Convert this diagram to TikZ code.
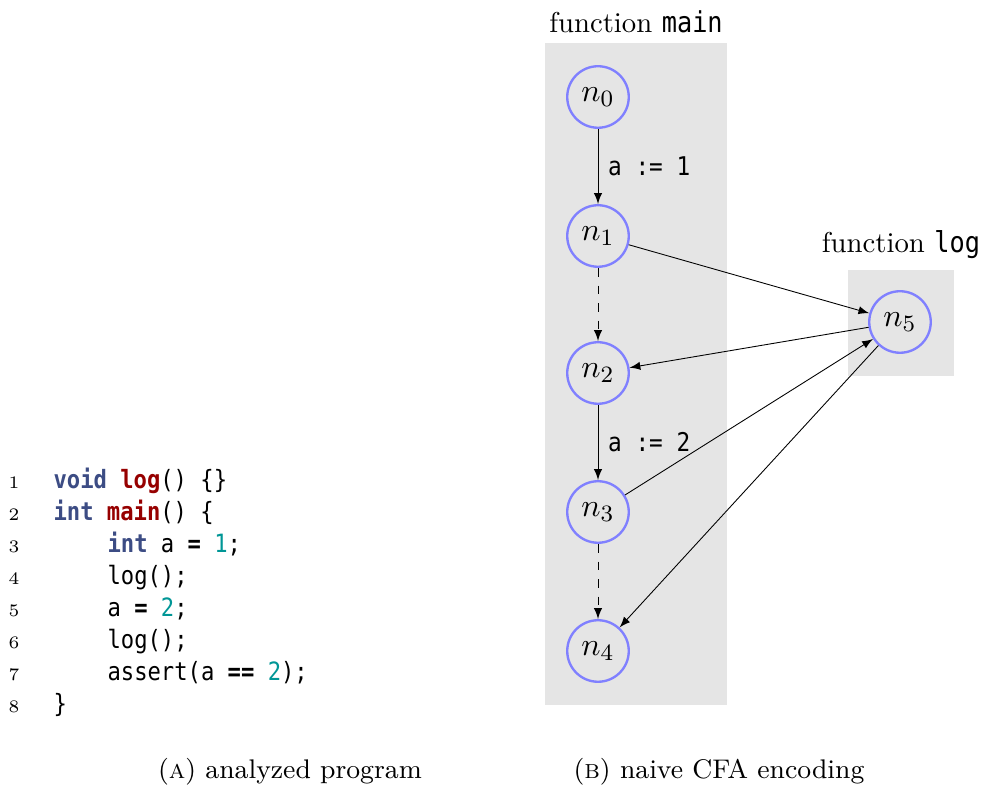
\documentclass[tikz,border=0pt]{standalone}
\usepackage{fontspec}
\usetikzlibrary{arrows}
\newfontfamily\codefont[FakeStretch=0.88]{DejaVu Sans Mono}
\definecolor{kwblue}{RGB}{60,76,132}
\definecolor{fnred}{RGB}{150,0,0}
\definecolor{numteal}{RGB}{0,150,150}
\newcommand{\kw}[1]{\textbf{\color{kwblue}#1}}
\newcommand{\fn}[1]{\textbf{\color{fnred}#1}}
\newcommand{\num}[1]{{\color{numteal}#1}}
\newcommand{\op}[1]{\textbf{#1}}

\begin{document}
\begin{tikzpicture}[x=0.3413pt,y=-0.3413pt,>=latex,
  loc/.style={circle,draw=blue!50,line width=0.8pt,minimum size=21pt,inner sep=0pt,font=\fontsize{11}{13}\selectfont},
  fbox/.style={fill=black!10,draw=none},
  codeline/.style={anchor=base west,inner sep=0pt,font=\fontsize{8.6}{10}\codefont},
  lineno/.style={anchor=base east,inner sep=0pt,font=\fontsize{6}{7}\selectfont},
  stmt/.style={right,font=\fontsize{8.8}{10}\codefont},
  edge/.style={->,line width=0.3pt}]
\useasboundingbox (0,0) rectangle (983,785);

%% program
\foreach \i in {1,...,8}
  \node[lineno] (no\i) at (20,{489+32*(\i-1)}) {\i};
\node[codeline] (c1) at (53,489) {\kw{void} \fn{log}() \{\}};
\node[codeline] (c2) at (53,521) {\kw{int} \fn{main}() \{};
\node[codeline] (c3) at (107,553) {\kw{int} a \op{=} \num{1};};
\node[codeline] (c4) at (107,585) {log();};
\node[codeline] (c5) at (107,617) {a \op{=} \num{2};};
\node[codeline] (c6) at (107,649) {log();};
\node[codeline] (c7) at (107,681) {assert(a \op{==} \num{2});};
\node[codeline] (c8) at (53,713) {\}};

%% function boxes
\fill[fbox] (545,43) rectangle (727,705);
\fill[fbox] (848,270) rectangle (954,376);
\node (fmain) at (636,22) {\fontsize{9.8}{12}\selectfont function {\codefont main}};
\node (flog) at (901,245) {\fontsize{9.8}{12}\selectfont function {\codefont log}};

%% nodes
\node[loc] (n0) at (598,97) {$n_0$};
\node[loc] (n1) at (598,236) {$n_1$};
\node[loc] (n2) at (598,373) {$n_2$};
\node[loc] (n3) at (598,512) {$n_3$};
\node[loc] (n4) at (598,651) {$n_4$};
\node[loc] (n5) at (900,322) {$n_5$};

%%% edges
\draw[edge] (n0) -- node[stmt] {a := 1} (n1);
\draw[edge,dashed] (n1) -- (n2);
\draw[edge] (n2) -- node[stmt] {a := 2} (n3);
\draw[edge,dashed] (n3) -- (n4);
\draw[edge] (n1) -- (n5);
\draw[edge] (n5) -- (n2);
\draw[edge] (n3) -- (n5);
\draw[edge] (n5) -- (n4);

%% captions
\node (capa) at (290,772) {\fontsize{9.2}{11}\selectfont (\textsc{a}) analyzed program};
\node (capb) at (719,772) {\fontsize{9.2}{11}\selectfont (\textsc{b}) naive CFA encoding};
\end{tikzpicture}
\end{document}
